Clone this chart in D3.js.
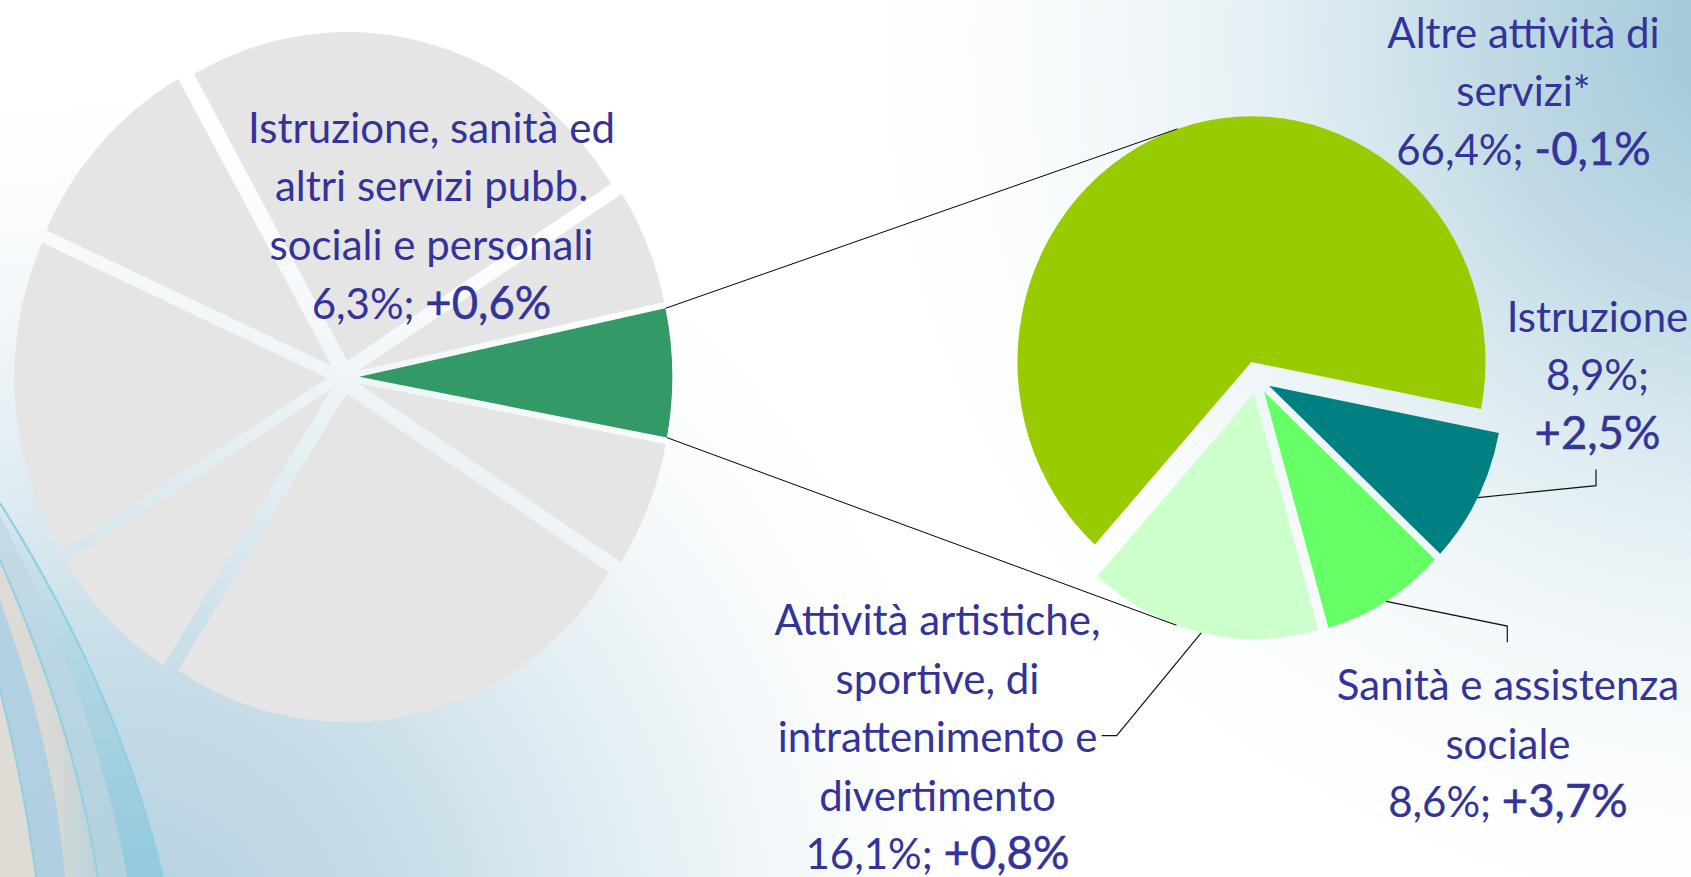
<!DOCTYPE html>
<html>
<head>
<meta charset="utf-8">
<script src="https://cdn.jsdelivr.net/npm/d3@7"></script>
<style>
html,body{margin:0;padding:0;overflow:hidden;background:#ffffff;}
svg{display:block;}
</style>
</head>
<body>
<svg id="chart" width="1691" height="877"></svg>
<script>
// ---------------- DATA ----------------
// Main pie: share by sector (only the highlighted slice is labelled)
const mainCategories = ["Settore 1", "Settore 2", "Istruzione, sanità ed altri servizi pubb. sociali e personali",
                        "Settore 4", "Settore 5", "Settore 6", "Settore 7", "Settore 8"];
const mainValues = [24.1, 5.7, 6.3, 6.2, 24.9, 7.1, 15.6, 10.1];
const mainHighlight = "Istruzione, sanità ed altri servizi pubb. sociali e personali";
const mainLabelLines = ["Istruzione, sanità ed", "altri servizi pubb.", "sociali e personali"];
const mainShare = "6,3%";
const mainChange = "+0,6%";

// Secondary pie: breakdown of the highlighted sector
const subCategories = ["Altre attività di servizi*", "Istruzione", "Sanità e assistenza sociale",
                       "Attività artistiche, sportive, di intrattenimento e divertimento"];
const subValues = [66.4, 8.9, 8.6, 16.1];
const subChanges = ["-0,1%", "+2,5%", "+3,7%", "+0,8%"];
const subLabelLines = [
  ["Altre attività di", "servizi*"],
  ["Istruzione"],
  ["Sanità e assistenza", "sociale"],
  ["Attività artistiche,", "sportive, di", "intrattenimento e", "divertimento"]
];

// ---------------- LAYOUT / STYLE ----------------
const W = 1691, H = 877;
const SY = 1.05;                       // vertical stretch of the picture
const mainPie = {cx: 343.3, cy: 377, r: 313, explode: 16, start: -29.3};
const subPie  = {cx: 1257, cy: 379.4, r: 234, start: -138, explode: [17.5, 13.7, 13.7, 13.7]};
const mainColors = {other: "#e5e5e5", highlight: "#339966"};
const subColors = ["#99cc00", "#008080", "#66ff66", "#ccffcc"];
const textColor = "#333399";
const FONT = "Lato, 'Open Sans', sans-serif";
const FS = 42, FS_CHANGE = 45.5, LH = 58.6;
const mainLabelPos = {x: 431.5, y: 142.7};
const subLabelPos = [
  {x: 1523.5, y: 47.5, split: false, leader: null},
  {x: 1597.5, y: 331.7, split: true, leader: [[1596, 469.4], [1596, 485.6]]},
  {x: 1508, y: 700.1, split: false, leader: [[1507.3, 642.3], [1507.3, 626.1]]},
  {x: 937.5, y: 635, split: false, leader: [[1101.7, 735.7], [1116.7, 735.7]]}
];

const fmt = v => d3.format(".1f")(v).replace(".", ",") + "%";
const rad = d => d * Math.PI / 180;

const svg = d3.select("#chart");
const defs = svg.append("defs");

// ---------------- BACKGROUND ----------------
svg.append("rect").attr("width", W).attr("height", H).attr("fill", "#ffffff");
function glow(id, cx, cy, r, stops) {
  const g = defs.append("radialGradient").attr("id", id).attr("gradientUnits", "userSpaceOnUse")
    .attr("cx", cx).attr("cy", cy).attr("r", r);
  stops.forEach(([o, c, a]) => g.append("stop").attr("offset", o).attr("stop-color", c).attr("stop-opacity", a));
  svg.append("rect").attr("width", W).attr("height", H).attr("fill", `url(#${id})`);
}
glow("glowTR", 1750, 40, 950, [[0, "#9cc4d7", 1], [0.28, "#b6d4e1", 0.85], [0.55, "#d6e7ee", 0.55], [1, "#ffffff", 0]]);
glow("glowBL", 120, 960, 920, [[0, "#b0cfdf", 1], [0.35, "#c3dbe6", 0.9], [0.65, "#dbe9f0", 0.55], [1, "#ffffff", 0]]);

// decorative swooshes bottom-left
const gCyan = defs.append("linearGradient").attr("id", "gcyan").attr("x1", 0).attr("y1", 0).attr("x2", 0).attr("y2", 1);
gCyan.append("stop").attr("offset", 0).attr("stop-color", "#9fd0df").attr("stop-opacity", 0.1);
gCyan.append("stop").attr("offset", 1).attr("stop-color", "#8fcadc").attr("stop-opacity", 0.95);
const gBeige = defs.append("linearGradient").attr("id", "gbeige").attr("x1", 0).attr("y1", 0).attr("x2", 1).attr("y2", 0);
gBeige.append("stop").attr("offset", 0).attr("stop-color", "#dedbd5");
gBeige.append("stop").attr("offset", 0.55).attr("stop-color", "#d8d9d5");
gBeige.append("stop").attr("offset", 1).attr("stop-color", "#b9d3da");

const sw = svg.append("g");
sw.append("path").attr("d", "M0,503 Q118,690 163,877 L127,877 Q95,700 0,515 Z").attr("fill", "url(#gcyan)");
sw.append("path").attr("d", "M0,515 Q95,700 127,877 L98,877 Q75,730 0,560 Z").attr("fill", "#b0cfdf").attr("opacity", 0.55);
sw.append("path").attr("d", "M0,560 Q75,730 98,877 L65,877 Q55,750 0,600 Z").attr("fill", "url(#gbeige)");
sw.append("path").attr("d", "M0,600 Q55,750 65,877 L36,877 Q25,790 0,690 Z").attr("fill", "#aecde0").attr("opacity", 0.8);
sw.append("path").attr("d", "M0,690 Q25,790 36,877 L0,877 Z").attr("fill", "#dfdcd6");
[["M0,503 Q118,690 163,877", 2.2], ["M0,560 Q75,730 98,877", 2], ["M0,690 Q25,790 36,877", 2]]
  .forEach(([d, w]) => sw.append("path").attr("d", d).attr("fill", "none")
    .attr("stroke", "#8fd0e1").attr("stroke-width", w));

// ---------------- MAIN PIE ----------------
const pieMain = d3.pie().sort(null).value(d => d.v)
  .startAngle(rad(mainPie.start)).endAngle(rad(mainPie.start + 360));
const mainData = pieMain(mainCategories.map((c, i) => ({c, v: mainValues[i]})));
const arcMain = d3.arc().innerRadius(0).outerRadius(mainPie.r);

const gMain = svg.append("g")
  .attr("transform", `translate(${mainPie.cx},${mainPie.cy}) scale(1,${SY})`);
gMain.selectAll("path").data(mainData).join("path")
  .attr("d", arcMain)
  .attr("transform", d => {
    const m = (d.startAngle + d.endAngle) / 2;
    return `translate(${mainPie.explode * Math.sin(m)},${-mainPie.explode * Math.cos(m)})`;
  })
  .attr("fill", d => d.data.c === mainHighlight ? mainColors.highlight : mainColors.other);

// ---------------- SECONDARY PIE ----------------
const pieSub = d3.pie().sort(null).value(d => d.v)
  .startAngle(rad(subPie.start)).endAngle(rad(subPie.start + 360));
const subData = pieSub(subCategories.map((c, i) => ({c, v: subValues[i]})));
const arcSub = d3.arc().innerRadius(0).outerRadius(subPie.r);

const gSub = svg.append("g")
  .attr("transform", `translate(${subPie.cx},${subPie.cy}) scale(1,${SY})`);
gSub.selectAll("path").data(subData).join("path")
  .attr("d", arcSub)
  .attr("transform", (d, i) => {
    const m = (d.startAngle + d.endAngle) / 2, e = subPie.explode[i];
    return `translate(${e * Math.sin(m)},${-e * Math.cos(m)})`;
  })
  .attr("fill", (d, i) => subColors[i]);

function subApex(i) {
  const d = subData[i], m = (d.startAngle + d.endAngle) / 2, e = subPie.explode[i];
  return [subPie.cx + e * Math.sin(m), subPie.cy - SY * e * Math.cos(m)];
}

// ---------------- SERIES LINES (tangents) ----------------
const hi = mainData.find(d => d.data.c === mainHighlight);
const hiMid = (hi.startAngle + hi.endAngle) / 2;
function mainCorner(a) {
  return [mainPie.cx + mainPie.explode * Math.sin(hiMid) + mainPie.r * Math.sin(a),
          mainPie.cy + SY * (-mainPie.explode * Math.cos(hiMid) - mainPie.r * Math.cos(a))];
}
function tangent(P, O, r, upper) {
  const px = P[0] - O[0], py = (P[1] - O[1]) / SY;
  const dist = Math.hypot(px, py), phi = Math.atan2(py, px), a = Math.acos(r / dist);
  const cands = [phi + a, phi - a].map(t => [O[0] + r * Math.cos(t), O[1] + SY * r * Math.sin(t)]);
  cands.sort((u, v) => u[1] - v[1]);
  return upper ? cands[0] : cands[1];
}
const pTop = mainCorner(hi.startAngle), pBot = mainCorner(hi.endAngle);
const tTop = tangent(pTop, subApex(0), subPie.r, true);
const tBot = tangent(pBot, subApex(3), subPie.r, false);
const line = d3.line();
svg.append("path").attr("d", line([pTop, tTop])).attr("stroke", "#000").attr("stroke-width", 1).attr("fill", "none");
svg.append("path").attr("d", line([pBot, tBot])).attr("stroke", "#000").attr("stroke-width", 1).attr("fill", "none");

// ---------------- LEADER LINES ----------------
subData.forEach((d, i) => {
  const lp = subLabelPos[i];
  if (!lp.leader) return;
  const m = (d.startAngle + d.endAngle) / 2, e = subPie.explode[i];
  const p = [subPie.cx + (e + subPie.r) * Math.sin(m), subPie.cy - SY * (e + subPie.r) * Math.cos(m)];
  svg.append("path").attr("d", line([...lp.leader, p]))
    .attr("stroke", "#111").attr("stroke-width", 1.2).attr("fill", "none");
});

// ---------------- LABELS ----------------
function drawLabel(x, y, lines, share, change, split) {
  const g = svg.append("g").attr("font-family", FONT).attr("fill", textColor).attr("text-anchor", "middle");
  lines.forEach((t, k) => {
    g.append("text").attr("x", x).attr("y", y + k * LH).attr("font-size", FS).text(t);
  });
  const k = lines.length;
  if (split) {
    g.append("text").attr("x", x).attr("y", y + k * LH).attr("font-size", FS).text(share + ";");
    g.append("text").attr("x", x).attr("y", y + (k + 1) * LH).attr("font-size", FS_CHANGE)
      .attr("stroke", textColor).attr("stroke-width", 0.5).text(change);
  } else {
    const t = g.append("text").attr("x", x).attr("y", y + k * LH).attr("font-size", FS);
    t.append("tspan").text(share + "; ");
    t.append("tspan").attr("font-size", FS_CHANGE).attr("stroke", textColor).attr("stroke-width", 0.5).text(change);
  }
}
drawLabel(mainLabelPos.x, mainLabelPos.y, mainLabelLines, mainShare, mainChange, false);
subData.forEach((d, i) => {
  const lp = subLabelPos[i];
  drawLabel(lp.x, lp.y, subLabelLines[i], fmt(subValues[i]), subChanges[i], lp.split);
});
</script>
</body>
</html>
